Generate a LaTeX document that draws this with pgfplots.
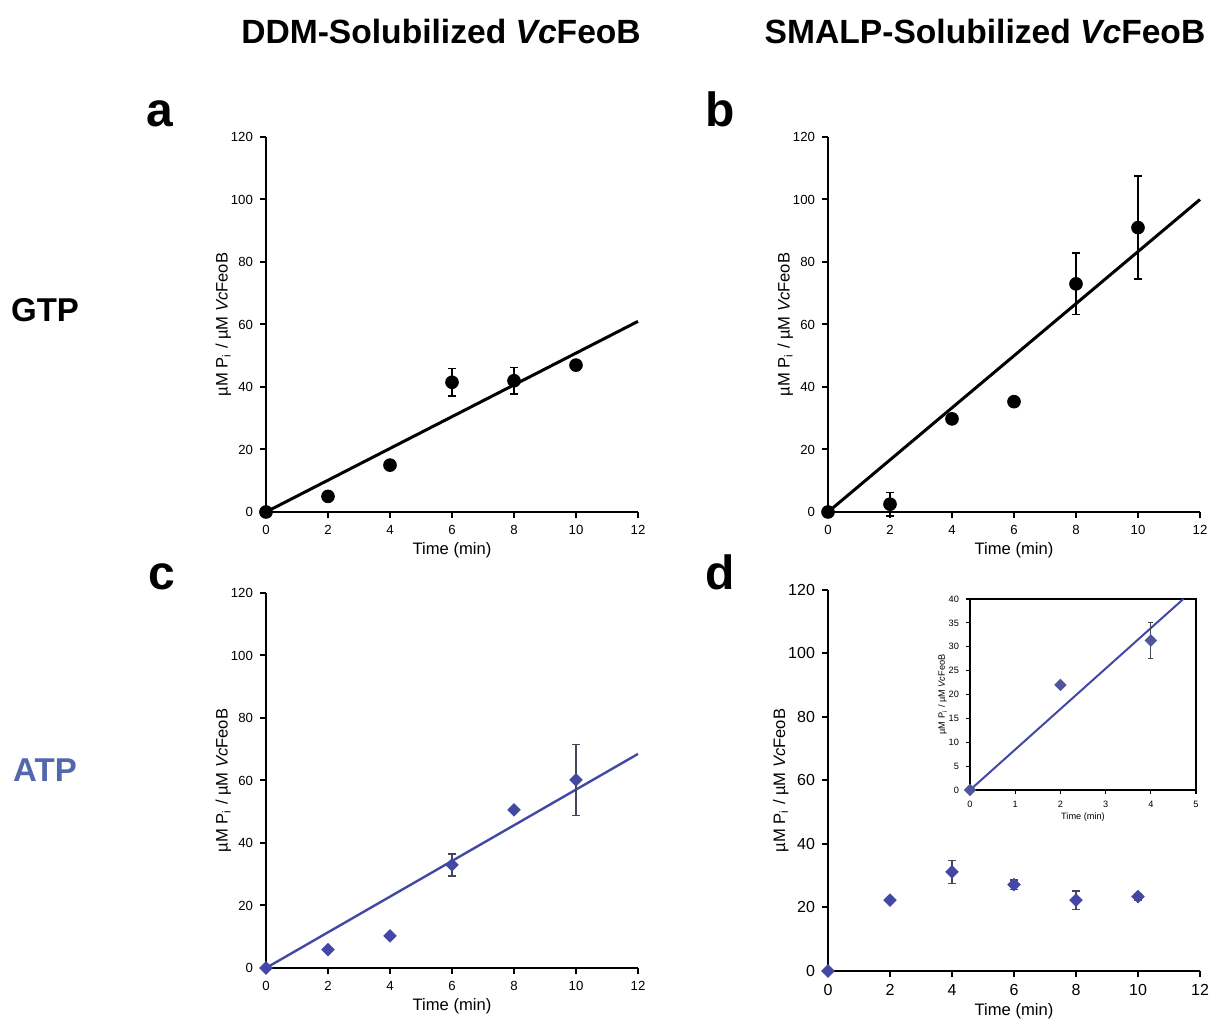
\documentclass[border=0pt]{standalone}
\usepackage{fontspec}
\setmainfont{Liberation Sans}
\usepackage{pgfplots}
\pgfplotsset{compat=1.18}
\definecolor{atpblue}{RGB}{82,104,172}
\definecolor{ptblue}{RGB}{66,72,164}
\definecolor{ebgray}{RGB}{70,70,90}
\pgfplotsset{
  panel/.style={
    scale only axis, width=186pt, height=187.5pt,
    anchor=south west,
    xmin=0, xmax=12, ymin=0, ymax=120,
    xtick={0,2,...,12}, ytick={0,20,...,120},
    axis lines*=left, axis line style={line width=1.2pt},
    tick align=outside, major tick length=3pt,
    every tick/.style={black, line width=1pt},
    tick label style={font=\fontsize{6.6}{7}\selectfont},
    /pgf/number format/assume math mode=true,
    clip=false,
    xlabel={Time (min)},
    ylabel={µM P\textsubscript{i} / µM \textit{Vc}FeoB},
    label style={font=\fontsize{8.3}{9}\selectfont},
    xlabel style={yshift=3pt},
    ylabel style={yshift=-7pt},
  },
  ebar/.style={error bars/.cd, y dir=both, y explicit,
    error bar style={line width=0.7pt, #1},
    error mark options={rotate=90, mark size=2pt, line width=0.7pt, #1}},
  dmd/.style={only marks, mark=square*, mark size=#1, mark options={rotate=45}},
}
\begin{document}
\begin{tikzpicture}
\useasboundingbox (0,0) rectangle (605pt,510pt);
% column titles
\node[font=\fontsize{16.8}{18}\selectfont\bfseries] at (220.5pt,494pt) {DDM-Solubilized \textit{Vc}FeoB};
\node[font=\fontsize{16.8}{18}\selectfont\bfseries] at (492.5pt,494pt) {SMALP-Solubilized \textit{Vc}FeoB};
% panel letters
\node[font=\fontsize{24}{26}\selectfont\bfseries, anchor=base] at (80pt,446.5pt) {a};
\node[font=\fontsize{24}{26}\selectfont\bfseries, anchor=base] at (360pt,446.5pt) {b};
\node[font=\fontsize{24}{26}\selectfont\bfseries, anchor=base] at (81pt,215pt) {c};
\node[font=\fontsize{24}{26}\selectfont\bfseries, anchor=base] at (360pt,215pt) {d};
% row labels
\node[font=\fontsize{16.5}{18}\selectfont\bfseries] at (22.5pt,355pt) {GTP};
\node[font=\fontsize{16.5}{18}\selectfont\bfseries, text=atpblue] at (22.5pt,125pt) {ATP};

% a: DDM, GTP
\begin{axis}[panel, at={(133pt,254pt)}]
\addplot[black, line width=1.5pt] coordinates {(0,0) (12,61)};
\addplot[only marks, mark=*, mark size=3.2pt, black, ebar=black]
  coordinates {(0,0) +- (0,0) (2,5) +- (0,0) (4,15) +- (0,0)
               (6,41.5) +- (0,4.4) (8,42) +- (0,4.2) (10,47) +- (0,0)};
\end{axis}

% b: SMALP, GTP
\begin{axis}[panel, at={(414pt,254pt)}]
\addplot[black, line width=1.5pt] coordinates {(0,0) (12,100)};
\addplot[only marks, mark=*, mark size=3.2pt, black, ebar=black]
  coordinates {(0,0) +- (0,0) (2,2.5) +- (0,3.8) (4,29.8) +- (0,0)
               (6,35.3) +- (0,0) (8,73) +- (0,9.9) (10,91) +- (0,16.5)};
\end{axis}

% c: DDM, ATP
\begin{axis}[panel, at={(133pt,26pt)}]
\addplot[ptblue, line width=1.2pt] coordinates {(0,0) (12,68.5)};
\addplot[dmd=2.2pt, color=ptblue, ebar=ebgray]
  coordinates {(0,0) +- (0,0) (2,5.9) +- (0,0) (4,10.3) +- (0,0)
               (6,33) +- (0,3.5) (8,50.6) +- (0,0) (10,60.2) +- (0,11.4)};
\end{axis}

% d: SMALP, ATP
\begin{axis}[panel, at={(414pt,24.5pt)}, height=190.5pt,
    tick label style={font=\fontsize{8}{9}\selectfont}]
\addplot[dmd=2.2pt, color=ptblue, ebar=ebgray]
  coordinates {(0,0) +- (0,0) (2,22.3) +- (0,0) (4,31.2) +- (0,3.6)
               (6,27.2) +- (0,1.5) (8,22.3) +- (0,2.9) (10,23.4) +- (0,1)};
\end{axis}

% d inset
\begin{axis}[scale only axis, width=113pt, height=95.5pt,
    anchor=south west, at={(485pt,115pt)},
    axis background/.style={fill=white},
    xmin=0, xmax=5, ymin=0, ymax=40,
    xtick={0,1,...,5}, ytick={0,5,...,40},
    xtick pos=bottom, ytick pos=left,
    axis line style={line width=0.8pt},
    tick align=outside, major tick length=2pt,
    every tick/.style={black, line width=0.6pt},
    tick label style={font=\fontsize{4.6}{5}\selectfont},
    /pgf/number format/assume math mode=true,
    xlabel={Time (min)},
    ylabel={µM P\textsubscript{i} / µM \textit{Vc}FeoB},
    label style={font=\fontsize{4.6}{5}\selectfont},
    xlabel style={yshift=4pt},
    ylabel style={yshift=-6pt},
  ]
\addplot[ptblue, line width=1pt] coordinates {(0,0) (4.72,40)};
\addplot[dmd=2pt, color=ptblue!75!gray,
    error bars/.cd, y dir=both, y explicit,
    error bar style={line width=0.5pt, ebgray},
    error mark options={rotate=90, mark size=1.3pt, line width=0.5pt, ebgray}]
  coordinates {(0,0) +- (0,0) (2,22) +- (0,0) (4,31.3) +- (0,3.7)};
\end{axis}
\end{tikzpicture}
\end{document}
